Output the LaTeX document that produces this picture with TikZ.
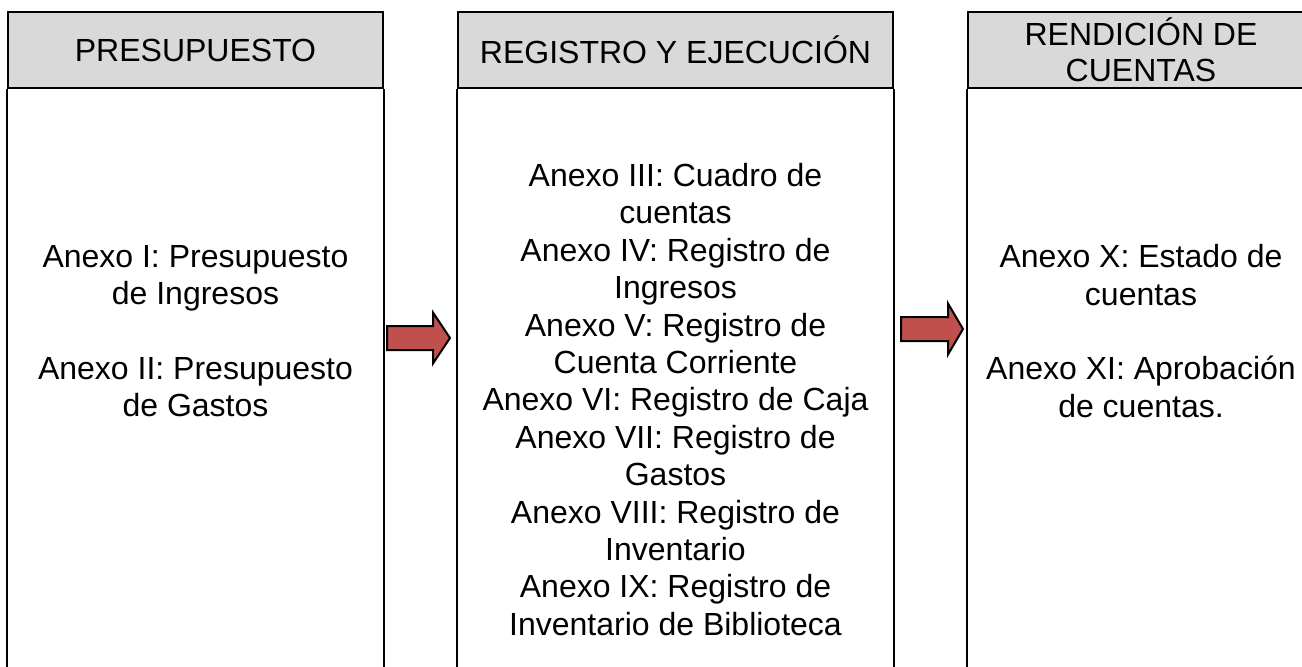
\documentclass[tikz,border=0pt]{standalone}
\usepackage{fontspec}
\setmainfont{Liberation Sans}
\definecolor{gris}{HTML}{D9D9D9}
\definecolor{rojo}{HTML}{C0504D}
\tikzset{
  cabecera/.style={draw, line width=1pt, fill=gris, minimum height=38pt, inner sep=0pt, align=center, font=\fontsize{16}{18pt}\selectfont},
  cuerpo/.style={align=center, inner sep=0pt, font=\fontsize{16}{18.7pt}\selectfont},
  borde/.style={line width=1pt},
  flecha/.style={draw, line width=1pt, line join=miter, fill=rojo}
}
\begin{document}
\begin{tikzpicture}[x=0.5pt, y=-0.5pt]
  \useasboundingbox (0,0) rectangle (1302,666);
  \coordinate (fondo) at (0,672);
  % cabeceras
  \node[cabecera, minimum width=187.5pt] (h1) at (195.5,50) {PRESUPUESTO};
  \node[cabecera, minimum width=217.5pt] (h2) at (675.5,50) {REGISTRO Y EJECUCIÓN};
  \node[cabecera, minimum width=173pt] (h3) at (1141,50) {RENDICIÓN DE\\CUENTAS};
  % lados de las columnas
  \foreach \h in {h1,h2,h3}{
    \draw[borde] (\h.south west) -- (\h.south west |- fondo);
    \draw[borde] (\h.south east) -- (\h.south east |- fondo);
  }
  % contenidos
  \node[cuerpo] (t1) at (195.5,331) {Anexo I: Presupuesto\\de Ingresos\\[18.7pt]Anexo II: Presupuesto\\de Gastos};
  \node[cuerpo] (t2) at (675.5,399.5) {Anexo III: Cuadro de\\cuentas\\Anexo IV: Registro de\\Ingresos\\Anexo V: Registro de\\Cuenta Corriente\\Anexo VI: Registro de Caja\\Anexo VII: Registro de\\Gastos\\Anexo VIII: Registro de\\Inventario\\Anexo IX: Registro de\\Inventario de Biblioteca};
  \node[cuerpo] (t3) at (1141,331) {Anexo X: Estado de\\cuentas\\[18.7pt]Anexo XI: Aprobación\\de cuentas.};
  % flechas
  \coordinate (f1) at (387,338);
  \coordinate (f2) at (901,329);
  \draw[flecha] (f1) ++(0,-12) -- ++(46,0) -- ++(0,-13.5) -- ++(17,25.5) -- ++(-17,25.5) -- ++(0,-13.5) -- ++(-46,0) -- cycle;
  \draw[flecha] (f2) ++(0,-12) -- ++(47,0) -- ++(0,-13.5) -- ++(15,25.5) -- ++(-15,25.5) -- ++(0,-13.5) -- ++(-47,0) -- cycle;
\end{tikzpicture}
\end{document}
